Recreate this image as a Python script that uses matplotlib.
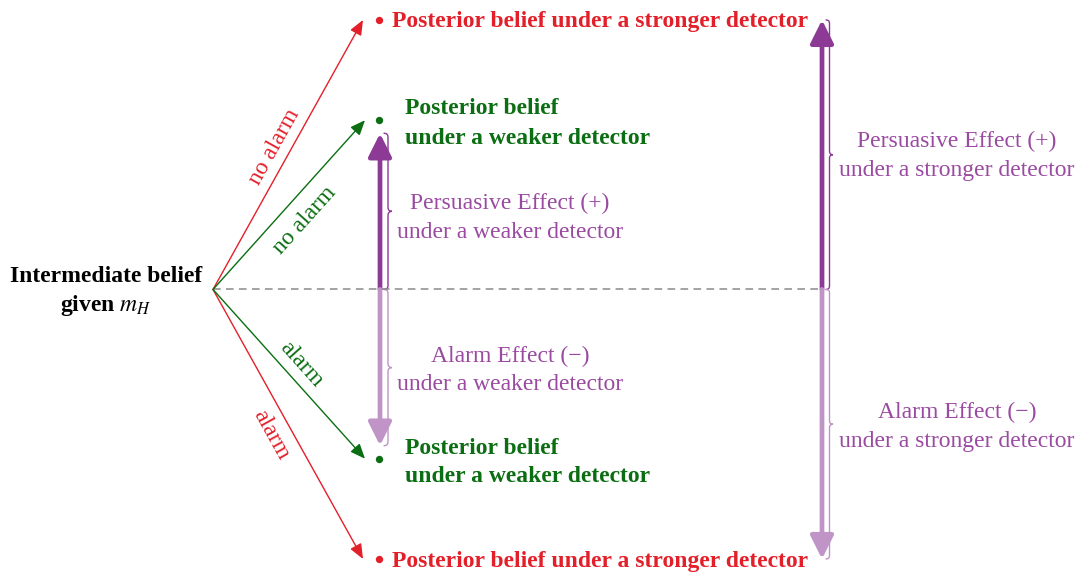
import numpy as np
import matplotlib
matplotlib.use('Agg')
import matplotlib.pyplot as plt
from matplotlib.path import Path
from matplotlib.patches import PathPatch
from matplotlib.transforms import IdentityTransform

# beliefs (0 = bottom of the scale, 1 = top)
prior = 0.5
strong_post = [1.0, 0.0]     # no alarm, alarm
weak_post = [0.814, 0.186]
branch_labels = ['no alarm', 'alarm']

W, H = 1080, 573
FS = 17
RED = '#e3202a'
GREEN = '#0b6e12'
PURPLE = '#8c3a95'
PURPLE_TXT = '#9a4aa1'
LIGHT = '#c194c8'
GRAY = '#8a8a8a'

plt.rcParams['font.family'] = ['Liberation Serif', 'DejaVu Serif']
plt.rcParams['mathtext.fontset'] = 'stix'

fig = plt.figure(figsize=(W / 100, H / 100), dpi=100)
ax = fig.add_axes([0, 0, 1, 1])
ax.set_xlim(0, W)
ax.set_ylim(-0.026, 1.037)
ax.axis('off')


def at(x, y):
    # pixel position (from top left) -> axes fraction, text nudged down a bit
    return x / W, 1 - (y + 2) / H


def pix(x, b):
    return ax.transData.transform((x, b))


def brace(x, b0, b1, amp, color, lw=1.0):
    # vertical curly brace in display coords, tip pointing right
    p0 = pix(x, b0)
    p1 = pix(x, b1)
    xb = p0[0]
    ya, yb = sorted([p0[1], p1[1]])
    ym = (ya + yb) / 2
    h = amp / 2
    verts = [(xb, ya), (xb + h, ya), (xb + h, ya + h),
             (xb + h, ym - h), (xb + h, ym), (xb + amp, ym),
             (xb + h, ym), (xb + h, ym + h),
             (xb + h, yb - h), (xb + h, yb), (xb, yb)]
    codes = [Path.MOVETO, Path.CURVE3, Path.CURVE3,
             Path.LINETO, Path.CURVE3, Path.CURVE3,
             Path.CURVE3, Path.CURVE3,
             Path.LINETO, Path.CURVE3, Path.CURVE3]
    ax.add_patch(PathPatch(Path(verts, codes), fc='none', ec=color, lw=lw,
                           transform=IdentityTransform(), capstyle='round'))


x0 = 213
# dashed reference line
ax.plot([x0, 822], [prior, prior], color=GRAY, lw=1.1, dashes=(5, 3.5))

# branches
thin = dict(arrowstyle='-|>,head_length=0.6,head_width=0.25', lw=1.0,
            shrinkA=0, shrinkB=0, mutation_scale=15)
for post, x_end, col in [(strong_post, 363, RED), (weak_post, 365, GREEN)]:
    for b in post:
        ax.annotate('', xy=(x_end, b), xytext=(x0, prior),
                    arrowprops=dict(thin, color=col))
        ax.plot(379, b, 'o', color=col, ms=5.3, mec='none')


def angle(x_end, b):
    p, q = pix(x0, prior), pix(x_end, b)
    return np.degrees(np.arctan2(q[1] - p[1], q[0] - p[0]))


ax.text(*at(274, 145), branch_labels[0], transform=ax.transAxes, color=RED,
        fontsize=FS, rotation=angle(363, strong_post[0]), ha='center', va='center')
ax.text(*at(305, 218), branch_labels[0], transform=ax.transAxes, color=GREEN,
        fontsize=FS, rotation=angle(365, weak_post[0]), ha='center', va='center')
ax.text(*at(301, 362), branch_labels[1], transform=ax.transAxes, color=GREEN,
        fontsize=FS, rotation=angle(365, weak_post[1]), ha='center', va='center')
ax.text(*at(271, 433), branch_labels[1], transform=ax.transAxes, color=RED,
        fontsize=FS, rotation=angle(363, strong_post[1]), ha='center', va='center')

# effect arrows
thick = dict(arrowstyle='-|>,head_length=0.7,head_width=0.35', lw=3.4,
             shrinkA=0, mutation_scale=20, joinstyle='round')
for b, col in [(weak_post[0], PURPLE), (weak_post[1], LIGHT)]:
    ax.annotate('', xy=(380, b), xytext=(380, prior),
                arrowprops=dict(thick, color=col, shrinkB=9.5))
for b, col in [(strong_post[0], PURPLE), (strong_post[1], LIGHT)]:
    ax.annotate('', xy=(822, b), xytext=(822, prior),
                arrowprops=dict(thick, color=col, shrinkB=0))

gap = 13 / 539
brace(384, prior, weak_post[0] - gap, 8, PURPLE)
brace(384, prior, weak_post[1] + gap, 8, LIGHT)
brace(826, prior, strong_post[0], 7, PURPLE)
brace(826, prior, strong_post[1], 7, LIGHT)

# texts
ax.text(*at(106, 274), 'Intermediate belief', transform=ax.transAxes,
        fontsize=FS, fontweight='bold', ha='center', va='center')
ax.text(*at(106, 304), r'given $m_H$', transform=ax.transAxes,
        fontsize=FS, fontweight='bold', ha='center', va='center')

for y in [19, 559]:
    ax.text(*at(392, y), 'Posterior belief under a stronger detector',
            transform=ax.transAxes, color=RED, fontsize=FS, fontweight='bold',
            ha='left', va='center')
for y in [107, 446]:
    ax.text(*at(405, y), 'Posterior belief', transform=ax.transAxes,
            color=GREEN, fontsize=FS, fontweight='bold', ha='left', va='center')
    ax.text(*at(405, y + 29), 'under a weaker detector', transform=ax.transAxes,
            color=GREEN, fontsize=FS, fontweight='bold', ha='left', va='center')

effects = [(510, 201, 'Persuasive Effect (+)', 'under a weaker detector'),
           (510, 354, 'Alarm Effect (\u2212)', 'under a weaker detector'),
           (957, 139, 'Persuasive Effect (+)', 'under a stronger detector'),
           (957, 410, 'Alarm Effect (\u2212)', 'under a stronger detector')]
for x, y, l1, l2 in effects:
    ax.text(*at(x, y), l1, transform=ax.transAxes, color=PURPLE_TXT,
            fontsize=FS, ha='center', va='center')
    ax.text(*at(x, y + 29), l2, transform=ax.transAxes, color=PURPLE_TXT,
            fontsize=FS, ha='center', va='center')

fig.savefig('out.png', dpi=100)
